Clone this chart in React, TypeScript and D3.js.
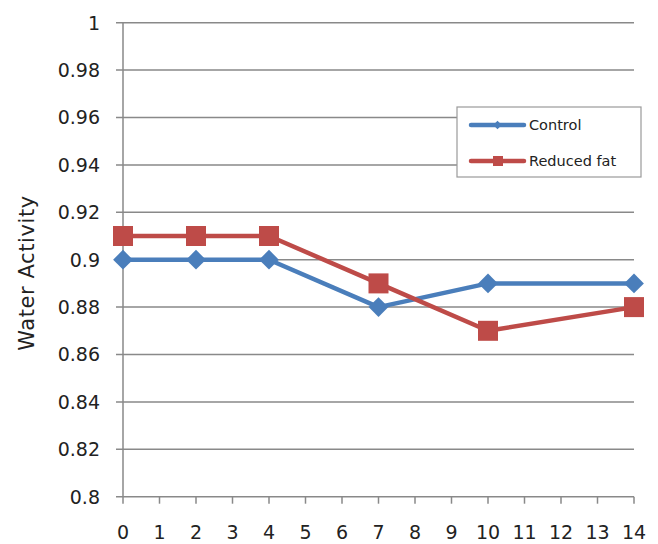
import React from "react";
import * as d3 from "d3";

const days = [0, 2, 4, 7, 10, 14];
const controlValues = [0.9, 0.9, 0.9, 0.88, 0.89, 0.89];
const reducedFatValues = [0.91, 0.91, 0.91, 0.89, 0.87, 0.88];
const yTicks = [0.8, 0.82, 0.84, 0.86, 0.88, 0.9, 0.92, 0.94, 0.96, 0.98, 1];
const xTicks = d3.range(0, 15);
const seriesNames = ["Control", "Reduced fat"];

const W = 658, H = 544;
const left = 123, right = 634, top = 22.7, bottom = 496.7;
const FONT = "'DejaVu Sans', sans-serif";
const BLUE = "#4A7EBB";
const RED = "#BE4B48";
const GRID = "#898989";

export default function App() {
  const x = d3.scaleLinear().domain([0, 14]).range([left, right]);
  const y = d3.scaleLinear().domain([0.8, 1]).range([bottom, top]);
  const line = d3.line<[number, number]>().x(d => x(d[0])).y(d => y(d[1]));
  const ctrl = days.map((d, i) => [d, controlValues[i]] as [number, number]);
  const red = days.map((d, i) => [d, reducedFatValues[i]] as [number, number]);
  const fmt = (v: number) => (v === 1 ? "1" : String(+v.toFixed(2)));

  return (
    <svg width={W} height={H} style={{ position: "absolute", left: 0, top: 0 }} fontFamily={FONT}>
      <rect width={W} height={H} fill="#fff" />
      {yTicks.map(t => (
        <g key={t}>
          <line x1={left - 7} x2={right} y1={y(t)} y2={y(t)} stroke={GRID} strokeWidth={1.5} />
          <text x={100} y={y(t)} dy="0.36em" textAnchor="end" fontSize={19} fill="#222">{fmt(t)}</text>
        </g>
      ))}
      <line x1={left} x2={left} y1={top} y2={bottom} stroke={GRID} strokeWidth={1.5} />
      {xTicks.map(t => (
        <g key={t}>
          <line x1={x(t)} x2={x(t)} y1={bottom} y2={bottom + 7} stroke={GRID} strokeWidth={1.5} />
          <text x={x(t)} y={539} textAnchor="middle" fontSize={19} fill="#222">{t}</text>
        </g>
      ))}
      <text transform={`translate(34,273) rotate(-90)`} textAnchor="middle" fontSize={21} letterSpacing={0.6} fill="#222">Water Activity</text>

      <path d={line(ctrl) || ""} fill="none" stroke={BLUE} strokeWidth={4.5} strokeLinejoin="round" />
      {ctrl.map((p, i) => (
        <rect key={i} x={-7} y={-7} width={14} height={14} fill={BLUE}
          transform={`translate(${x(p[0])},${y(p[1])}) rotate(45)`} />
      ))}
      <path d={line(red) || ""} fill="none" stroke={RED} strokeWidth={4.5} strokeLinejoin="round" />
      {red.map((p, i) => (
        <rect key={i} x={x(p[0]) - 10} y={y(p[1]) - 10} width={20} height={20} fill={RED} />
      ))}

      <g>
        <rect x={457} y={107} width={184} height={70} fill="#fff" stroke="#9a9a9a" strokeWidth={1.2} />
        <line x1={471} x2={524} y1={125} y2={125} stroke={BLUE} strokeWidth={4.5} strokeLinecap="round" />
        <rect x={-3} y={-3} width={6} height={6} fill={BLUE} transform="translate(497.5,125) rotate(45)" />
        <text x={529} y={125} dy="0.36em" fontSize={14.5} fill="#222">{seriesNames[0]}</text>
        <line x1={471} x2={524} y1={161} y2={161} stroke={RED} strokeWidth={4.5} strokeLinecap="round" />
        <rect x={493} y={156} width={10} height={10} fill={RED} />
        <text x={529} y={161} dy="0.36em" fontSize={14.5} fill="#222">{seriesNames[1]}</text>
      </g>
    </svg>
  );
}
